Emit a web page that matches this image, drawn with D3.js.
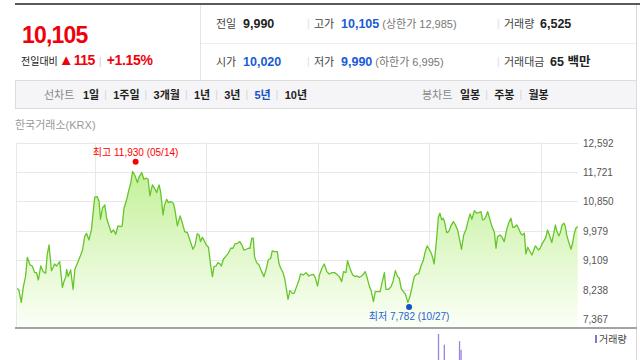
<!DOCTYPE html>
<html>
<head>
<meta charset="utf-8">
<script src="https://cdn.jsdelivr.net/npm/d3@7"></script>
<style>
  body { margin: 0; background: #fff; }
  svg { display: block; font-family: "Liberation Sans", Arial, "Noto Sans CJK KR", sans-serif; }
</style>
</head>
<body>
<div id="chart"></div>
<script>
// price series: calendar days since first point, closing price
const startDate = new Date(2009, 3, 21);
const dayOffsets = [0,5,13,20,27,33,42,49,57,63,69,77,85,93,98,104,112,118,122,129,133,139,148,153,159,162,167,175,183,189,
  197,206,214,221,227,235,243,249,254,262,268,273,279,287,293,301,308,315,323,330,339,344,350,359,366,372,378,385,394,400,
  408,415,424,429,435,443,450,457,465,470,478,483,490,495,503,512,517,525,534,541,549,558,566,576,583,590,596,601,607,612,
  620,627,634,640,645,652,658,665,669,676,683,692,700,707,714,722,730,738,743,751,758,763,769,774,778,785,793,800,809,817,
  823,831,836,844,853,858,864,870,877,883,888,894,902,908,916,924,929,938,947,956,963,971,977,985,991,999,1007,1015,1023,
  1032,1040,1047,1056,1064,1070,1078,1083,1091,1100,1109,1114,1122,1129,1136,1141,1148,1155,1160,1168,1174,1182,1190,1196,
  1204,1209,1218,1226,1233,1240,1247,1253,1259,1266,1273,1281,1288,1295,1302,1310,1316,1324,1332,1338,1344,1349,1357,1362,
  1367,1371,1375,1381,1386,1392,1397,1402,1408,1415,1422,1430,1437,1444,1452,1457,1464,1472,1477,1485,1491,1499,1507,1513,
  1521,1526,1532,1537,1543,1548,1557,1565,1570,1575,1583,1590,1597,1605,1612,1619,1625,1630,1638,1644,1652,1657,1663,1668,
  1674,1679,1688,1692,1699,1703,1709,1715,1721,1729,1734,1739,1745,1753,1759,1765,1769,1776,1781,1787,1793,1797,1802,1808,
  1816,1821,1827,1832,1838];
const closes = [8275,8226,7860,8325,8621,9194,8967,8937,8740,8740,8522,8937,8769,8720,9263,9559,8799,8898,8996,8937,8996,9066,8305,8473,8621,8838,8621,8819,8246,8838,
  9016,9214,9411,9806,9905,9708,10004,10547,10972,10992,10844,10320,10646,10745,10350,10122,9925,10004,9876,10122,10103,10122,10646,10913,11189,11387,11733,11634,11407,11584,
  11703,11505,11535,11505,11011,11337,11239,11110,11337,11140,10448,10745,10913,10814,10844,10794,10597,10122,10419,10221,9955,9925,9708,9431,9559,9885,9856,9658,9787,9708,
  9559,9490,8967,8621,8917,8937,9036,8996,8937,9135,9214,9312,9461,9461,9589,9609,9658,9530,9411,9431,9461,9461,9757,9757,9214,9036,8967,8799,8621,8868,
  9115,9164,9382,9362,9362,9016,8868,8769,8572,8226,7949,8206,8127,8127,8325,8522,8700,8670,8740,8641,8670,8690,8601,8344,8670,8868,8996,8769,8700,
  8740,8740,8700,8621,8473,8769,8740,9095,8868,8670,8621,8641,8601,8641,8700,8769,8572,8325,8226,7880,8177,8177,8177,8423,
  8740,8246,8246,8325,8502,8799,8621,8572,8275,8177,8107,7851,8048,8325,8621,8700,8700,8937,9115,9362,9530,9461,9332,9194,
  8996,9332,9708,10379,10498,10300,10350,10221,9925,9955,10122,10251,10152,10004,9658,9431,9856,10024,10221,10478,10320,10577,10498,10518,
  10547,10300,10320,10399,10547,10379,10103,9925,9461,9806,9856,9787,9658,10004,10221,10350,10083,10083,10152,10053,9885,9856,9905,9293,
  9490,9411,9263,9362,9530,9490,9411,9461,9589,9708,9806,10004,9856,9629,9885,10152,9984,9826,9925,10152,10201,10122,9856,9658,
  9431,9609,9905,10053,10105];
const yTicks = [7367, 8238, 9109, 9979, 10850, 11721, 12592];

const highValue = 11930, highDate = new Date(2010, 4, 14);
const lowValue = 7782, lowDate = new Date(2012, 9, 27);

// visible volume spikes only
const volumeDays = [1381, 1400, 1450, 1455];
const volumes = [1200000, 1050000, 1100000, 980000];

// header texts
const headRow1 = [["전일", "9,990", "", "#222"], ["고가", "10,105", "(상한가 12,985)", "#1a5bd6"], ["거래량", "6,525", "", "#222"]];
const headRow2 = [["시가", "10,020", "", "#1a5bd6"], ["저가", "9,990", "(하한가 6,995)", "#1a5bd6"], ["거래대금", "65 백만", "", "#222"]];
const lineTabs = ["1일", "1주일", "3개월", "1년", "3년", "5년", "10년"];
const barTabs = ["일봉", "주봉", "월봉"];

const W = 640, H = 360;
const svg = d3.select("#chart").append("svg").attr("width", W).attr("height", H);

// ---- header ----
svg.append("rect").attr("x", 15).attr("y", 3).attr("width", 625).attr("height", 2).attr("fill", "#5a5a5a");
svg.append("line").attr("x1", 200.5).attr("x2", 200.5).attr("y1", 5).attr("y2", 81).attr("stroke", "#e4e4e4");
svg.append("line").attr("x1", 636.5).attr("x2", 636.5).attr("y1", 5).attr("y2", 360).attr("stroke", "#d8d8d8");
svg.append("line").attr("x1", 201).attr("x2", 636).attr("y1", 43.5).attr("y2", 43.5).attr("stroke", "#efefef");

svg.append("text").attr("x", 22).attr("y", 43).attr("fill", "#f0000a")
  .attr("font-size", 23).attr("font-weight", "bold").attr("letter-spacing", -0.8).text("10,105");
const chg = svg.append("text").attr("x", 21).attr("y", 65).attr("font-size", 10);
chg.append("tspan").attr("fill", "#222").attr("font-size", 10).text("전일대비");
chg.append("tspan").attr("fill", "#f0000a").attr("font-size", 15).attr("dx", 1).text("▲");
chg.append("tspan").attr("fill", "#f0000a").attr("font-size", 14).attr("font-weight", "bold").attr("letter-spacing", -0.5).text("115");
chg.append("tspan").attr("fill", "#ccc").attr("font-size", 11).attr("dx", 4).text("|");
chg.append("tspan").attr("fill", "#f0000a").attr("font-size", 14).attr("font-weight", "bold").attr("dx", 5).attr("letter-spacing", -0.3).text("+1.15%");

const colX = [216, 314, 504];
const valX = [243, 341, 540];
[[headRow1, 28], [headRow2, 66]].forEach(([row, y]) => {
  row.forEach((d, i) => {
    if (i > 0) svg.append("text").attr("x", colX[i] - 7).attr("y", y - 1).attr("fill", "#ddd").attr("font-size", 10).text("|");
    svg.append("text").attr("x", colX[i]).attr("y", y).attr("fill", "#444").attr("font-size", 11).text(d[0]);
    const vx = (i === 2 && d[0] === "거래대금") ? 550 : valX[i];
    const t = svg.append("text").attr("x", vx).attr("y", y).attr("font-size", 12.5).attr("font-weight", "bold").attr("fill", d[3]).text(d[1]);
    if (d[2]) svg.append("text").attr("x", vx + t.node().getComputedTextLength() + 3).attr("y", y)
      .attr("fill", "#777").attr("font-size", 11).text(d[2]);
  });
});

// ---- tab bar ----
svg.append("rect").attr("x", 15.5).attr("y", 80.5).attr("width", 621).attr("height", 28)
  .attr("fill", "#f5f5f7").attr("stroke", "#dcdcdc");
svg.append("text").attr("x", 44).attr("y", 99).attr("fill", "#888").attr("font-size", 11).text("선차트");
let tx = 83;
lineTabs.forEach((d, i) => {
  const t = svg.append("text").attr("x", tx).attr("y", 99).attr("font-size", 11).attr("font-weight", "bold")
    .attr("fill", d === "5년" ? "#1a4fc4" : "#222").text(d);
  tx += t.node().getComputedTextLength();
  if (i < lineTabs.length - 1) {
    svg.append("text").attr("x", tx + 5).attr("y", 98).attr("fill", "#d4d4d4").attr("font-size", 10).text("|");
    tx += 14;
  }
});
svg.append("text").attr("x", 422).attr("y", 99).attr("fill", "#888").attr("font-size", 11).text("봉차트");
tx = 460;
barTabs.forEach((d, i) => {
  const t = svg.append("text").attr("x", tx).attr("y", 99).attr("font-size", 11).attr("font-weight", "bold").attr("fill", "#222").text(d);
  tx += t.node().getComputedTextLength();
  if (i < barTabs.length - 1) {
    svg.append("text").attr("x", tx + 5).attr("y", 98).attr("fill", "#d4d4d4").attr("font-size", 10).text("|");
    tx += 14;
  }
});

svg.append("text").attr("x", 15).attr("y", 129).attr("fill", "#999").attr("font-size", 11).text("한국거래소(KRX)");

// ---- price chart ----
const data = dayOffsets.map((d, i) => ({ date: d3.timeDay.offset(startDate, d), close: closes[i] }));
const x = d3.scaleTime().domain(d3.extent(data, d => d.date)).range([17.3, 577.7]);
const y = d3.scaleLinear().domain([7367, 12592]).range([319, 142.5]);
const plotTop = 142.5, plotBottom = 327;

const grid = svg.append("g").attr("stroke", "#e8e8e8").attr("stroke-width", 1);
grid.selectAll("line.h").data(yTicks).join("line")
  .attr("x1", 16.5).attr("x2", 578).attr("y1", d => Math.round(y(d)) + 0.5).attr("y2", d => Math.round(y(d)) + 0.5);
const yearTicks = x.ticks(d3.timeYear.every(1));
grid.selectAll("line.v").data(yearTicks).join("line")
  .attr("x1", d => Math.round(x(d)) + 0.5).attr("x2", d => Math.round(x(d)) + 0.5)
  .attr("y1", plotTop).attr("y2", plotBottom);
grid.append("line").attr("x1", 16.5).attr("x2", 16.5).attr("y1", plotTop).attr("y2", plotBottom);

const defs = svg.append("defs");
const grad = defs.append("linearGradient").attr("id", "fillGrad").attr("gradientUnits", "userSpaceOnUse")
  .attr("x1", 0).attr("x2", 0).attr("y1", plotTop).attr("y2", plotBottom);
grad.append("stop").attr("offset", 0).attr("stop-color", "#b8ef86");
grad.append("stop").attr("offset", 0.55).attr("stop-color", "#def7c6");
grad.append("stop").attr("offset", 1).attr("stop-color", "#fbfff7");

svg.append("path").datum(data).attr("fill", "url(#fillGrad)")
  .attr("d", d3.area().x(d => x(d.date)).y0(plotBottom).y1(d => y(d.close)));
svg.append("path").datum(data).attr("fill", "none").attr("stroke", "#66c52a").attr("stroke-width", 1.3)
  .attr("stroke-linejoin", "round")
  .attr("d", d3.line().x(d => x(d.date)).y(d => y(d.close)));

// y axis labels on the right
svg.append("g").selectAll("text").data(yTicks).join("text")
  .attr("x", 583).attr("y", d => y(d) + 4).attr("fill", "#555").attr("font-size", 10)
  .text(d => d3.format(",")(d));

// high / low markers
const fmt = d3.format(",");
const md = d3.timeFormat("%m/%d");
svg.append("circle").attr("cx", x(highDate)).attr("cy", y(highValue) - 3).attr("r", 3).attr("fill", "#f00");
svg.append("text").attr("x", x(highDate)).attr("y", y(highValue) - 9).attr("text-anchor", "middle")
  .attr("fill", "#f00").attr("font-size", 10).text(`최고 ${fmt(highValue)} (${md(highDate)})`);
svg.append("circle").attr("cx", x(lowDate)).attr("cy", y(lowValue) + 2).attr("r", 3).attr("fill", "#1450c8");
svg.append("text").attr("x", x(lowDate)).attr("y", y(lowValue) + 15).attr("text-anchor", "middle")
  .attr("fill", "#2a62d0").attr("font-size", 10).text(`최저 ${fmt(lowValue)} (${md(lowDate)})`);

// bottom axis line
svg.append("rect").attr("x", 15).attr("y", 327).attr("width", 622).attr("height", 2).attr("fill", "#a3a3a3");

// ---- volume panel (mostly below the visible area) ----
const yv = d3.scaleLinear().domain([0, 1200000]).range([420, 334]);
svg.append("g").selectAll("rect").data(volumeDays).join("rect")
  .attr("x", d => x(d3.timeDay.offset(startDate, d)) - 0.5).attr("width", 1.3)
  .attr("y", (d, i) => yv(volumes[i])).attr("height", (d, i) => 420 - yv(volumes[i]))
  .attr("fill", "#9a84dc");
svg.append("rect").attr("x", 595).attr("y", 335).attr("width", 2).attr("height", 8).attr("fill", "#8a6fd4");
svg.append("text").attr("x", 599).attr("y", 343).attr("fill", "#444").attr("font-size", 10).text("거래량");
</script>
</body>
</html>
